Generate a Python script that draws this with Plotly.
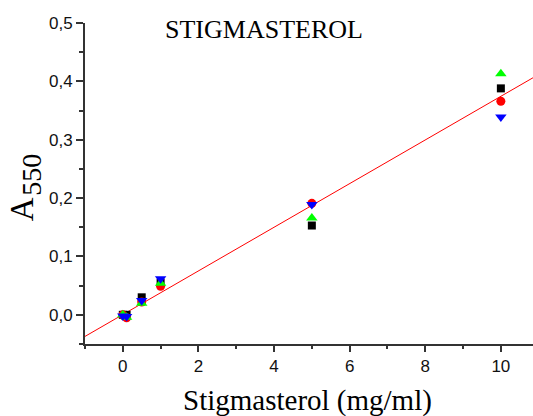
import plotly.graph_objects as go

# Stigmasterol calibration: absorbance at 550 nm, four replicate series
conc = [0.0, 0.1, 0.5, 1.0, 5.0, 10.0]
rep_black = [0.000, 0.000, 0.030, 0.055, 0.153, 0.388]
rep_red = [0.000, -0.005, 0.022, 0.049, 0.191, 0.366]
rep_green = [0.000, -0.004, 0.020, 0.054, 0.166, 0.413]
rep_blue = [-0.002, -0.003, 0.0245, 0.062, 0.189, 0.339]

# linear calibration fit  A = slope * c + intercept
fit_slope = 0.0374
fit_intercept = 0.0004

x_range = [-1.0, 10.85]
y_range = [-0.05, 0.5]

fig = go.Figure()

fit_x = x_range
fit_y = [fit_slope * v + fit_intercept for v in fit_x]
fig.add_trace(go.Scatter(x=fit_x, y=fit_y, mode="lines",
                         line=dict(color="#ff0000", width=1), showlegend=False,
                         hoverinfo="skip"))

series = [
    (rep_black, "square", "#000000", 8),
    (rep_red, "circle", "#ff0000", 9),
    (rep_green, "triangle-up", "#00ff00", 10),
    (rep_blue, "triangle-down", "#0000ff", 10),
]
for vals, sym, col, sz in series:
    fig.add_trace(go.Scatter(x=conc, y=vals, mode="markers",
                             marker=dict(symbol=sym, color=col, size=sz,
                                         line=dict(width=0)),
                             showlegend=False, cliponaxis=False))

axis_common = dict(showline=True, linecolor="#333333", linewidth=2,
                   ticks="outside", tickcolor="#333333", tickwidth=1.5,
                   showgrid=False, zeroline=False, mirror=False,
                   tickfont=dict(family="Liberation Sans, Arial", size=17,
                                 color="#111111"))

fig.update_xaxes(range=x_range, dtick=2, tick0=0, ticklen=6,
                 minor=dict(dtick=1, ticks="outside", ticklen=3,
                            tickcolor="#333333", tickwidth=1.5),
                 **axis_common)
fig.update_yaxes(range=y_range, dtick=0.1, tick0=0, ticklen=7,
                 tickformat=".1f",
                 minor=dict(dtick=0.05, ticks="outside", ticklen=4,
                            tickcolor="#333333", tickwidth=1.5),
                 **axis_common)

serif = "Liberation Serif, Times New Roman, serif"
fig.add_annotation(text="STIGMASTEROL", x=3.74, y=0.46, xref="x", yref="y",
                   showarrow=False, xanchor="center", yanchor="bottom",
                   font=dict(family=serif, size=26, color="#000000"))
# y-axis title: "A" with a lowered "550"
fig.add_annotation(text="A", x=-0.14, y=(344.3 - 209) / 321.6,
                   xref="paper", yref="paper", textangle=-90,
                   showarrow=False, xanchor="center", yanchor="middle",
                   font=dict(family=serif, size=33, color="#000000"))
fig.add_annotation(text="550", x=(31 - 85.3) / 447.7, y=(344.3 - 175) / 321.6,
                   xref="paper", yref="paper", textangle=-90,
                   showarrow=False, xanchor="center", yanchor="middle",
                   font=dict(family=serif, size=28, color="#000000"))
fig.add_annotation(text="Stigmasterol (mg/ml)", x=0.497, y=-0.175,
                   xref="paper", yref="paper", showarrow=False,
                   xanchor="center", yanchor="middle",
                   font=dict(family=serif, size=29, color="#000000"))

fig.update_layout(width=533, height=416,
                  margin=dict(l=85.3, r=0, t=22.7, b=71.7, pad=0),
                  paper_bgcolor="white", plot_bgcolor="white",
                  separators=",.", showlegend=False)

fig.write_html("out.html")
